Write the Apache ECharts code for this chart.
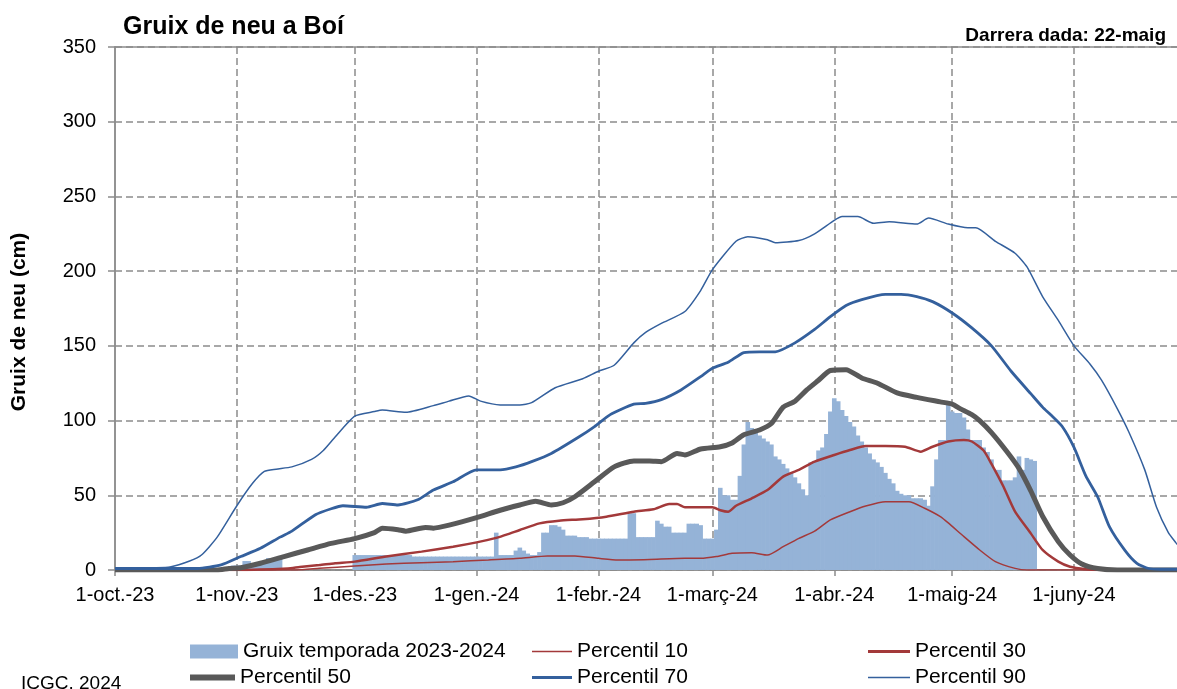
<!DOCTYPE html>
<html>
<head>
<meta charset="utf-8">
<script src="https://cdn.jsdelivr.net/npm/echarts@6/dist/echarts.min.js"></script>
<style>
  html, body { margin: 0; padding: 0; background: #fff; }
  #chart { width: 1177px; height: 689px; }
</style>
</head>
<body>
<div id="chart"></div>
<script>
// etiquetes de l'eix x (primer dia de cada mes) i l'index del dia corresponent
var monthLabels = ['1-oct.-23', '1-nov.-23', '1-des.-23', '1-gen.-24', '1-febr.-24', '1-març-24', '1-abr.-24', '1-maig-24', '1-juny-24'];
var monthStart = [0, 31, 61, 92, 123, 152, 183, 213, 244];
var yTicks = [0, 50, 100, 150, 200, 250, 300, 350];

// gruix diari temporada 2023-2024 (cm), des de l'1 d'octubre fins al 22 de maig
var gruix = [
    // oct
    0,0,0,0,0,0,0,0,0,0, 0,0,0,0,0,0,0,0,0,0, 0,0,0,0,0,0,0,0,0,0, 3,
    // nov
    3,3,6,6,4,4,4,4,8,8, 8,8,0,0,0,0,0,0,0,0, 0,0,0,0,0,0,0,0,0,0,
    // des
    10,10,10,10,10,10,10,10,10,10, 10,10,10,10,10,9,9,9,9,9, 9,9,9,9,9,9,9,9,9,9, 9,
    // gen
    9,9,9,9,9,25,10,10,10,10, 13,15,13,11,10,10,12,25,25,30, 30,29,27,23,23,23,22,22,22,21, 21,
    // febr
    21,21,21,21,21,21,21,21,38,38, 22,22,22,22,22,33,31,29,29,25, 25,25,25,31,31,31,30,21,21,
    // març
    21,27,55,50,50,47,47,63,84,99, 95,92,90,88,86,84,76,74,71,68, 65,62,58,54,50,72,73,80,82,91, 106,
    // abr
    115,113,107,103,99,96,90,86,82,78, 74,72,69,65,61,58,53,51,50,50, 48,48,48,47,43,56,74,87,87,113,
    // maig
    106,105,105,102,94,87,87,87,82,79, 74,67,67,60,60,60,62,76,67,75, 74,73
];

// percentils historics: [dia des de l'1 d'octubre, gruix en cm]
var p10 = [[0,0],[46,0],[52,1.1],[61,2.7],[69,4],[78,4.9],[86,5.6],[95,6.7],[103,7.8],[110,9.4],[117,9.4],
    [123,7.8],[128,6.7],[136,7.1],[145,7.8],[149,7.8],[153,9],[157,11.2],[162,11.6],[166,10],[170,15.6],
    [174,21.2],[178,26],[182,33.5],[187,39],[191,42.8],[196,45.7],[202,45.7],[206,41.3],[210,35.7],
    [212,31.5],[216,22.3],[220,13.4],[224,5.6],[229,1.1],[232,0],[273,0]];
var p30 = [[0,0],[31,0],[44,1],[47,2],[52,3.3],[56,4.5],[61,5.6],[69,9],[78,12.3],[86,15.6],[92,18.5],
    [97,21.5],[100,24],[103,26.8],[108,31.2],[113,33],[119,34],[125,35.7],[132,39],[137,40.6],[141,44.2],
    [143,44.2],[145,42],[152,42],[154,40],[156,39],[158,43],[162,48],[166,53.5],[170,62.5],[174,67],
    [178,72.5],[183,77],[187,80.3],[191,83],[196,83],[201,82.5],[205,79.2],[208,82.5],[212,86],[216,87],
    [218,86],[221,80],[223,71],[226,56],[229,39],[233,24.5],[236,13.4],[240,5.6],[243,2.2],[247,0.5],
    [250,0],[273,0]];
var p50 = [[0,0],[26,0],[29,1],[32,1.5],[37,4.5],[43,9],[49,13.4],[55,17.8],[61,21],[66,25],[68,28],
    [72,27],[74,26],[79,28.5],[81,28],[85,30],[92,35],[98,40],[103,43.5],[107,46],[111,43.5],[114,45],
    [117,49],[122,59],[127,69],[132,73],[136,73],[139,72.5],[143,78],[145,77],[149,81],[154,82.5],
    [157,85],[160,90.5],[164,93.7],[167,98],[170,109],[173,113],[176,120.5],[179,127],[182,133.5],
    [186,134],[190,128.5],[194,125],[199,118.5],[204,115.5],[210,112.5],[213,111],[215,108],[218,104],
    [220,100],[223,92],[227,79],[230,68],[233,53],[236,36],[240,19],[243,10],[246,4],[250,1],[255,0],[273,0]];
var p70 = [[0,1],[21,1],[27,3.4],[32,9],[37,14.5],[42,22],[45,26],[51,37],[55,41],[58,43],[64,42],
    [68,44.5],[72,43.5],[77,47],[81,53.5],[86,59],[92,67],[98,67],[102,69],[106,72.5],[111,78],[118,89],
    [122,96],[126,104],[132,111],[135,111.5],[139,114],[144,120.5],[149,129.4],[152,135],[156,139],
    [160,145.5],[164,146],[168,146],[173,152],[178,161],[182,169.5],[186,177],[190,181],[196,184.5],
    [200,184.5],[204,183],[208,179.6],[213,172],[218,162],[223,150],[228,133],[233,118],[236,109],
    [238,104],[241,96],[244,82],[247,63],[250,49],[253,29],[257,13],[260,4.5],[263,1],[266,0.5],[273,0.5]];
var p90 = [[0,1],[10,1.5],[14,2],[19,6],[22,10],[26,22],[31,43],[35,58],[38,66],[41,67.5],[45,69],
    [50,74],[53,80],[56,89],[61,103],[66,106],[68,107],[74,105.5],[81,110],[85,113],[90,116.5],[93,113],
    [98,110.5],[103,110.5],[106,112],[112,122],[119,128],[123,133],[127,137],[132,152],[135,159],
    [139,165],[145,173],[149,187],[152,201],[158,220],[161,223],[166,221],[168,219],[174,220.5],
    [178,225],[183,234],[185,236.5],[189,236.5],[193,232],[197,233],[204,231.5],[207,235.5],[212,231.5],
    [217,229],[219,229],[224,220],[229,212],[232,203],[236,183],[240,167],[244,150],[248,138],[251,127],
    [255,108],[258,92],[262,67],[265,42],[268,25],[270,18],[273,8]];

// categories diaries de l'1-oct-2023 al 30-juny-2024
var dies = [];
var d0 = new Date(2023, 9, 1);
for (var i = 0; i < 274; i++) {
    var d = new Date(d0.getFullYear(), d0.getMonth(), d0.getDate() + i);
    dies.push(d.getFullYear() + '-' + (d.getMonth() + 1) + '-' + d.getDate());
}

function isMonthStart(idx) {
    return monthStart.indexOf(idx) !== -1;
}

var font = '"Liberation Sans", Arial, sans-serif';
var blau = '#34609d';
var vermell = '#a3393a';
var gris = '#595959';

// una llegenda per element, per col·locar-les en tres columnes
function llegenda(nom, left, top, w, h) {
    return {
        left: left, top: top, padding: 0, itemWidth: w, itemHeight: h, icon: 'rect',
        selectedMode: false,
        textStyle: { fontFamily: font, fontSize: 21, color: '#000' },
        data: [nom]
    };
}

var chart = echarts.init(document.getElementById('chart'), null, { renderer: 'canvas' });

var option = {
    animation: false,
    textStyle: { fontFamily: font },
    title: [
        {
            text: 'Gruix de neu a Boí', left: 118, top: 10,
            textStyle: { fontFamily: font, fontSize: 25, fontWeight: 'bold', color: '#000' }
        },
        {
            text: 'Darrera dada: 22-maig', right: 6, top: 21,
            textStyle: { fontFamily: font, fontSize: 19, fontWeight: 'bold', color: '#000' }
        },
        {
            text: 'ICGC. 2024', left: 16, top: 669,
            textStyle: { fontFamily: font, fontSize: 19, fontWeight: 'normal', color: '#000' }
        }
    ],
    graphic: [{
        type: 'text', x: 19, y: 322, rotation: Math.PI / 2,
        style: {
            text: 'Gruix de neu (cm)', fill: '#000', font: 'bold 21px ' + font,
            textAlign: 'center', textVerticalAlign: 'middle'
        }
    }],
    grid: {
        left: 115, top: 47, width: 1073, height: 523,
        outerBoundsMode: 'none', containLabel: false,
        show: true, borderColor: '#8c8c8c', borderWidth: 1.5, backgroundColor: 'transparent'
    },
    legend: [
        llegenda('Gruix temporada 2023-2024', 190, 641, 48, 14),
        llegenda('Percentil 50', 190, 667, 45, 6),
        llegenda('Percentil 10', 532, 641, 40, 1.5),
        llegenda('Percentil 70', 532, 667, 40, 3),
        llegenda('Percentil 30', 868, 641, 42, 3),
        llegenda('Percentil 90', 868, 667, 42, 1.5)
    ],
    xAxis: {
        type: 'category',
        data: dies,
        boundaryGap: false,
        axisLine: { lineStyle: { color: '#8c8c8c', width: 1.5 } },
        axisTick: {
            interval: function (idx) { return isMonthStart(idx); },
            length: 6, lineStyle: { color: '#8c8c8c', width: 1.5 }
        },
        axisLabel: {
            interval: function (idx) { return isMonthStart(idx); },
            formatter: function (val, idx) { return monthLabels[monthStart.indexOf(idx)]; },
            color: '#000', fontSize: 20, fontFamily: font, margin: 15, hideOverlap: false
        },
        splitLine: {
            show: true,
            interval: function (idx) { return isMonthStart(idx) && idx > 0; },
            lineStyle: { color: '#8c8c8c', width: 1.5, type: [7, 4] }
        }
    },
    yAxis: {
        type: 'value',
        min: yTicks[0], max: yTicks[yTicks.length - 1], interval: 50,
        axisLine: { show: true, lineStyle: { color: '#8c8c8c', width: 1.5 } },
        axisTick: { show: true, length: 7, lineStyle: { color: '#8c8c8c', width: 1.5 } },
        axisLabel: { color: '#000', fontSize: 20, fontFamily: font, margin: 19 },
        splitLine: { lineStyle: { color: '#8c8c8c', width: 1.5, type: [7, 4] } }
    },
    series: [
        {
            name: 'Gruix temporada 2023-2024', type: 'bar', data: gruix,
            barWidth: 4.6, itemStyle: { color: '#95b3d7' }
        },
        {
            name: 'Percentil 10', type: 'line', data: p10, symbol: 'none', smooth: 0.2,
            color: vermell, lineStyle: { color: vermell, width: 1.5 }
        },
        {
            name: 'Percentil 30', type: 'line', data: p30, symbol: 'none', smooth: 0.2,
            color: vermell, lineStyle: { color: vermell, width: 2.5 }
        },
        {
            name: 'Percentil 50', type: 'line', data: p50, symbol: 'none', smooth: 0.2,
            color: gris, lineStyle: { color: gris, width: 5 }
        },
        {
            name: 'Percentil 70', type: 'line', data: p70, symbol: 'none', smooth: 0.2,
            color: blau, lineStyle: { color: blau, width: 2.8 }
        },
        {
            name: 'Percentil 90', type: 'line', data: p90, symbol: 'none', smooth: 0.2,
            color: blau, lineStyle: { color: blau, width: 1.5 }
        }
    ]
};

chart.setOption(option);
</script>
</body>
</html>
